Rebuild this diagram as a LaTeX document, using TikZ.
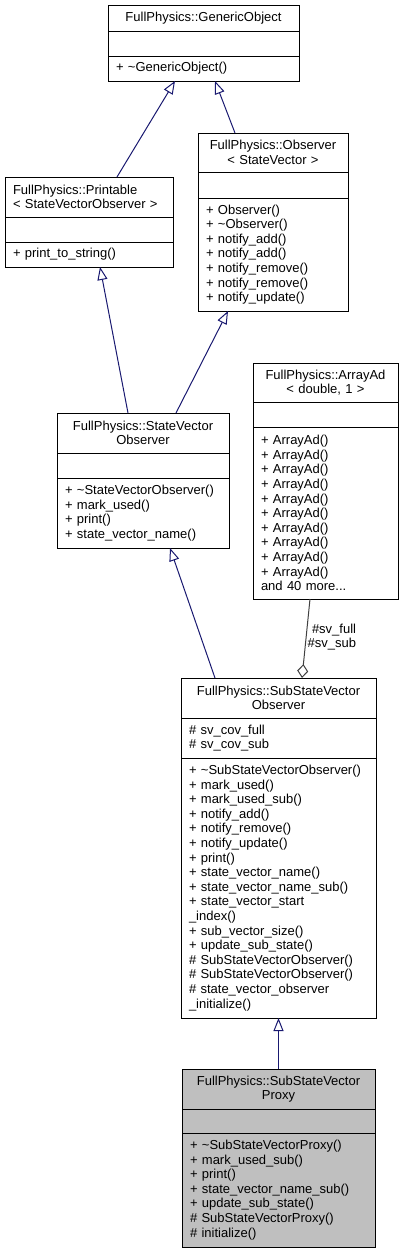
\documentclass[tikz,border=0pt]{standalone}
\usepackage{fontspec}
\setmainfont{Liberation Sans}
\usetikzlibrary{arrows.meta,positioning}
\definecolor{edgeblue}{RGB}{25,25,112}
\definecolor{edgegrey}{RGB}{64,64,64}
\definecolor{focusgrey}{RGB}{191,191,191}

\begin{document}
\begin{tikzpicture}[x=1pt, y=-1pt, node distance=0pt,
  every node/.style={font=\fontsize{13}{14.6}\selectfont},
  part/.style={draw, line width=1pt, inner xsep=8pt, inner ysep=0pt, outer sep=0pt},
  ttl/.style={part, align=center},
  mbr/.style={part, align=left},
  inh/.style={draw=edgeblue, line width=1pt, -{Triangle[length=13pt, width=10pt, fill=white]}},
  agg/.style={draw=edgegrey, line width=1pt, -{Diamond[length=14pt, width=11pt, fill=white]}}]
\useasboundingbox (0,0) rectangle (403,1253);

% base class
\begin{scope}[nodes={text width=175pt}]
\node[ttl, minimum height=26pt, anchor=north west] (gobj) at (108,5) {FullPhysics::GenericObject};
\node[mbr, minimum height=25pt, below=of gobj] (gobj-a) {};
\node[mbr, minimum height=25pt, below=of gobj-a] (gobj-m) {+ \textasciitilde GenericObject()};
\end{scope}

\begin{scope}[nodes={text width=152pt}]
\node[mbr, minimum height=40pt, anchor=north west] (prt) at (5,177) {FullPhysics::Printable\\< StateVectorObserver >};
\node[mbr, minimum height=25pt, below=of prt] (prt-a) {};
\node[mbr, minimum height=25pt, below=of prt-a] (prt-m) {+ print\_to\_string()};
\end{scope}

\begin{scope}[nodes={text width=134pt}]
\node[ttl, minimum height=39pt, anchor=north west] (obs) at (198,133) {FullPhysics::Observer\\< StateVector >};
\node[mbr, minimum height=26pt, below=of obs] (obs-a) {};
\node[mbr, minimum height=113pt, below=of obs-a] (obs-m) {+ Observer()\\+ \textasciitilde Observer()\\+ notify\_add()\\+ notify\_add()\\+ notify\_remove()\\+ notify\_remove()\\+ notify\_update()};
\end{scope}

\begin{scope}[nodes={text width=156pt}]
\node[ttl, minimum height=40pt, anchor=north west] (svo) at (57,413) {FullPhysics::StateVector\\Observer};
\node[mbr, minimum height=25pt, below=of svo] (svo-a) {};
\node[mbr, minimum height=70pt, below=of svo-a] (svo-m) {+ \textasciitilde StateVectorObserver()\\+ mark\_used()\\+ print()\\+ state\_vector\_name()};
\end{scope}

\begin{scope}[nodes={text width=129pt}]
\node[ttl, minimum height=39pt, anchor=north west] (arr) at (253,363) {FullPhysics::ArrayAd\\< double, 1 >};
\node[mbr, minimum height=25pt, below=of arr] (arr-a) {};
\node[mbr, minimum height=172pt, below=of arr-a] (arr-m) {+ ArrayAd()\\+ ArrayAd()\\+ ArrayAd()\\+ ArrayAd()\\+ ArrayAd()\\+ ArrayAd()\\+ ArrayAd()\\+ ArrayAd()\\+ ArrayAd()\\+ ArrayAd()\\and 40 more...};
\end{scope}

\begin{scope}[nodes={text width=179pt}]
\node[ttl, minimum height=40pt, anchor=north west] (ssvo) at (181,678) {FullPhysics::SubStateVector\\Observer};
\node[mbr, minimum height=40pt, below=of ssvo] (ssvo-a) {\# sv\_cov\_full\\\# sv\_cov\_sub};
\node[mbr, minimum height=260pt, below=of ssvo-a] (ssvo-m) {+ \textasciitilde SubStateVectorObserver()\\+ mark\_used()\\+ mark\_used\_sub()\\+ notify\_add()\\+ notify\_remove()\\+ notify\_update()\\+ print()\\+ state\_vector\_name()\\+ state\_vector\_name\_sub()\\+ state\_vector\_start\\\_index()\\+ sub\_vector\_size()\\+ update\_sub\_state()\\\# SubStateVectorObserver()\\\# SubStateVectorObserver()\\\# state\_vector\_observer\\\_initialize()};
\end{scope}

% class of interest
\begin{scope}[nodes={text width=177pt, fill=focusgrey}]
\node[ttl, minimum height=40pt, anchor=north west] (prx) at (182,1069) {FullPhysics::SubStateVector\\Proxy};
\node[mbr, minimum height=24pt, below=of prx] (prx-a) {};
\node[mbr, minimum height=114pt, below=of prx-a] (prx-m) {+ \textasciitilde SubStateVectorProxy()\\+ mark\_used\_sub()\\+ print()\\+ state\_vector\_name\_sub()\\+ update\_sub\_state()\\\# SubStateVectorProxy()\\\# initialize()};
\end{scope}

\draw[inh] ([xshift=28pt]prt.north) -- ([xshift=-28.5pt]gobj-m.south);
\draw[inh] ([xshift=-38pt]obs.north) -- ([xshift=11.5pt]gobj-m.south);
\draw[inh] ([xshift=-15pt]svo.north) -- ([xshift=11pt]prt-m.south);
\draw[inh] ([xshift=33pt]svo.north) -- ([xshift=-45pt]obs-m.south);
\draw[inh] ([xshift=-63.5pt]ssvo.north) -- ([xshift=27pt]svo-m.south);
\draw[inh] (prx.north) -- (ssvo-m.south);
\draw[agg] ([xshift=-15.5pt]arr-m.south) -- node[pos=0.48, anchor=west, align=right, inner sep=1pt] (svlab) {\#sv\_full\\\#sv\_sub} ([xshift=23.5pt]ssvo.north);
\end{tikzpicture}
\end{document}
